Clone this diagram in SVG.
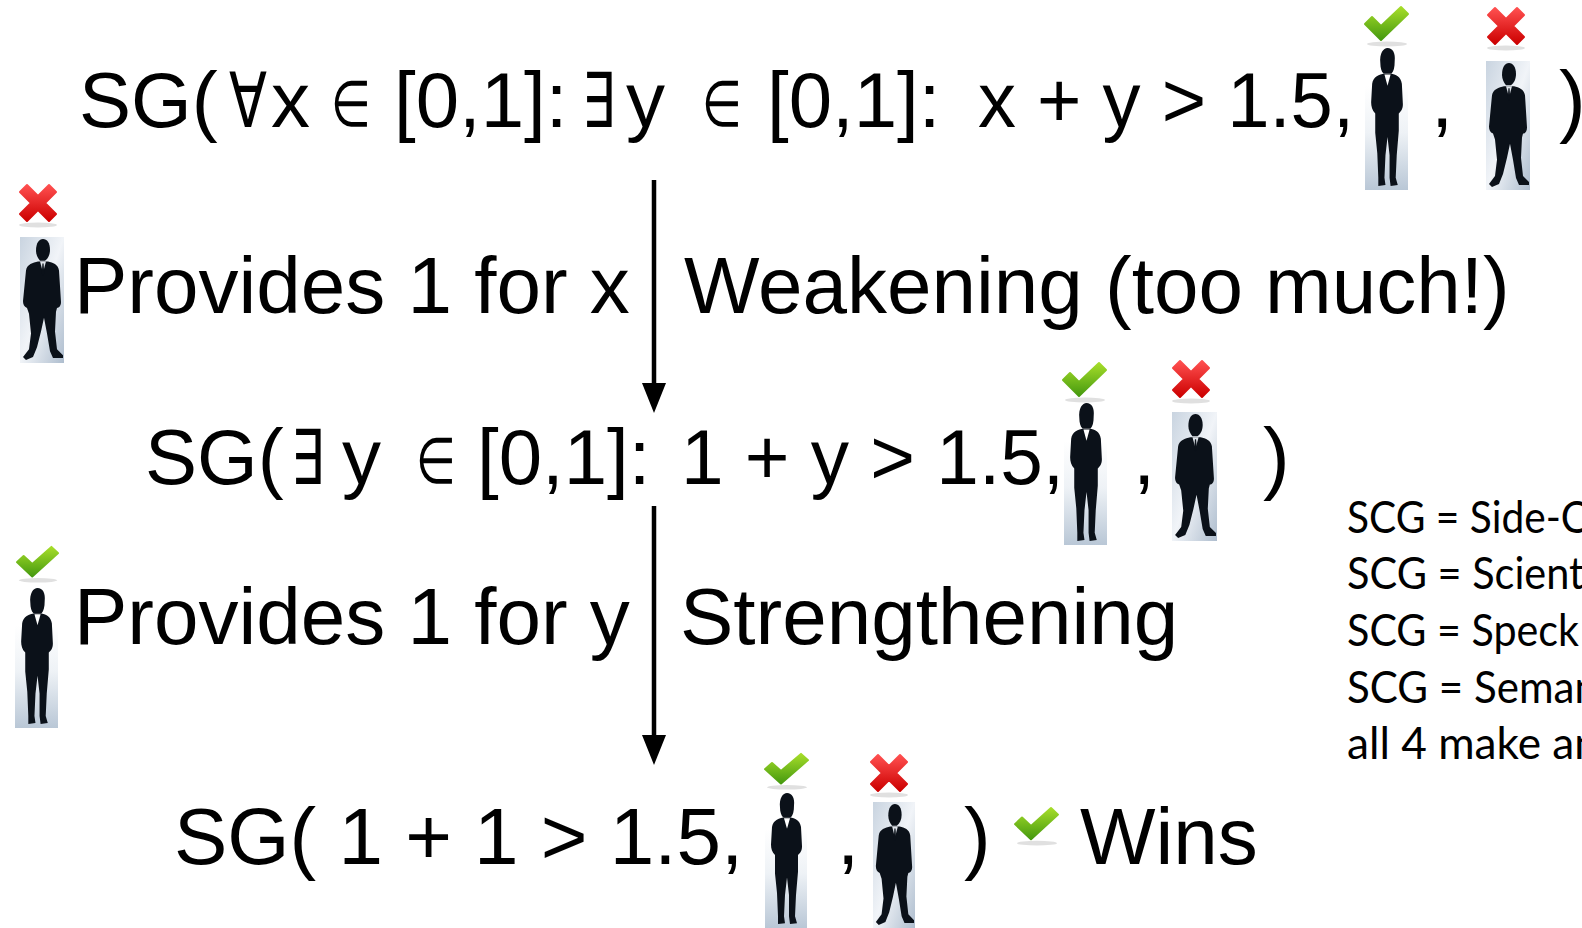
<svg xmlns="http://www.w3.org/2000/svg" xmlns:xlink="http://www.w3.org/1999/xlink" width="1582" height="928" viewBox="0 0 1582 928">
  <style>
    .big { font-family: "Liberation Sans", Arial, sans-serif; font-size: 80px; fill: #000; }
    .eq { font-family: "Liberation Sans", Arial, sans-serif; font-size: 78px; fill: #000; }
    .sym { font-family: "DejaVu Sans", sans-serif; font-size: 76px; fill: #000; }
    .mem { font-family: "DejaVu Sans", sans-serif; font-size: 64px; fill: #000; }
    .note { font-family: Lato, "Open Sans", sans-serif; font-size: 44px; fill: #000; }
    .arrow { stroke: #000; stroke-width: 4.5; fill: none; }
  </style>
  <defs>
    <linearGradient id="wbg" x1="0" y1="0" x2="0" y2="1">
      <stop offset="0" stop-color="#ffffff"/>
      <stop offset="0.45" stop-color="#eef2f6"/>
      <stop offset="1" stop-color="#b9c7d6"/>
    </linearGradient>
    <linearGradient id="mbg" x1="0" y1="0" x2="1" y2="1">
      <stop offset="0" stop-color="#c9d4e0"/>
      <stop offset="0.5" stop-color="#f1f4f8"/>
      <stop offset="1" stop-color="#aebdce"/>
    </linearGradient>
    <linearGradient id="green" x1="0" y1="0" x2="0" y2="1">
      <stop offset="0" stop-color="#a6dd2a"/>
      <stop offset="1" stop-color="#45990f"/>
    </linearGradient>
    <linearGradient id="red" x1="0" y1="0" x2="0" y2="1">
      <stop offset="0" stop-color="#ff5050"/>
      <stop offset="1" stop-color="#cc0000"/>
    </linearGradient>
    <marker id="head" markerUnits="userSpaceOnUse" viewBox="0 0 30 24" markerWidth="30" markerHeight="24" refX="1" refY="12" orient="auto">
      <path d="M0,0 L30,12 L0,24 Z" fill="#000"/>
    </marker>

    <!-- businesswoman silhouette -->
    <symbol id="woman" viewBox="0 0 42 142" preserveAspectRatio="none">
      <rect x="0" y="40" width="42" height="102" fill="url(#wbg)"/>
      <path fill="#0b1119" d="M15,18 C14,8 18,3 22,3 C27,3 30,8 29,16 C29,22 28,26 26,28 L18,28 C16,26 15,22 15,18 Z"/>
      <path fill="#0b1119" d="M7,38 C8,31 14,29 19,28 L25,28 C30,29 35,31 36,38 L37,58 C37,63 35,65 33,67 L33,84 L31,108 L30,130 L32,137 L25,138 L24,130 L24,108 L22,90 L20,108 L19,130 L20,137 L13,138 L13,130 L12,106 L10,86 L10,67 C7,64 6,60 6,56 Z"/>
      <path fill="#ffffff" d="M19,29 L22,40 L25,29 Z"/>
    </symbol>

    <!-- businessman silhouette -->
    <symbol id="man" viewBox="0 0 44 128" preserveAspectRatio="none">
      <rect x="0" y="0" width="44" height="128" fill="url(#mbg)"/>
      <path fill="#0b1119" d="M16,14 C16,6 19,2 23,2 C27,2 30,6 30,13 C30,18 28,22 25,24 L20,24 C18,22 16,18 16,14 Z"/>
      <path fill="#0b1119" d="M6,34 C7,28 13,26 18,25 L28,25 C33,26 38,28 39,34 L41,66 C41,70 39,72 37,72 L36,76 L35,96 L37,114 L43,120 L43,123 L33,123 L30,116 L27,98 L24,82 L21,96 L17,112 L13,122 L6,125 L3,122 L9,114 L11,98 L9,78 L7,72 C4,71 3,68 3,65 Z"/>
      <path fill="#dfe4ea" d="M20,25 L23,36 L26,25 Z"/>
      <path fill="#0b1119" d="M22.4,27 L23.6,27 L24.2,37 L23,39.5 L21.8,37 Z"/>
    </symbol>

    <!-- green tick -->
    <symbol id="tick" viewBox="0 0 48 42" preserveAspectRatio="none">
      <ellipse cx="24" cy="39" rx="20" ry="2.5" fill="#000" opacity="0.12"/>
      <polygon points="2,19 9,12 18,21 38,2 45,9 18,35" fill="url(#green)" stroke="url(#green)" stroke-width="2" stroke-linejoin="round"/>
    </symbol>

    <!-- red cross -->
    <symbol id="cross" viewBox="0 0 46 46" preserveAspectRatio="none">
      <ellipse cx="23" cy="43" rx="19" ry="2.5" fill="#000" opacity="0.12"/>
      <polygon points="5,10 12,3 23,14 34,3 41,10 30,21 41,32 34,39 23,28 12,39 5,32 16,21" fill="url(#red)" stroke="url(#red)" stroke-width="2" stroke-linejoin="round"/>
    </symbol>
  </defs>

  <rect width="1582" height="928" fill="#ffffff"/>

  <g id="connectors">
    <line class="arrow" x1="654" y1="180" x2="654" y2="384" marker-end="url(#head)"/>
    <line class="arrow" x1="654" y1="506" x2="654" y2="736" marker-end="url(#head)"/>
  </g>

  <g id="game-start">
    <text class="eq" x="79" y="127">SG(</text>
    <text class="sym" x="229" y="127" textLength="38" lengthAdjust="spacingAndGlyphs">∀</text>
    <text class="eq" x="271" y="127">x</text>
    <text class="mem" x="331" y="126" textLength="40" lengthAdjust="spacingAndGlyphs">∈</text>
    <text class="eq" x="394" y="127">[0,1]:</text>
    <text class="sym" x="582" y="127" textLength="33" lengthAdjust="spacingAndGlyphs">∃</text>
    <text class="eq" x="626" y="127">y</text>
    <text class="mem" x="702" y="126" textLength="40" lengthAdjust="spacingAndGlyphs">∈</text>
    <text class="eq" x="767" y="127">[0,1]:</text>
    <text class="eq" x="978" y="127" textLength="376" lengthAdjust="spacingAndGlyphs">x + y &gt; 1.5,</text>
    <use xlink:href="#tick" x="1363" y="5" width="48" height="42"/>
    <use xlink:href="#woman" x="1365" y="45" width="43" height="145"/>
    <text class="big" x="1431" y="127">,</text>
    <use xlink:href="#cross" x="1483" y="5" width="46" height="46"/>
    <use xlink:href="#man" x="1486" y="61" width="44" height="129"/>
    <text class="big" x="1559" y="127">)</text>
  </g>

  <g id="move-x">
    <use xlink:href="#cross" x="15" y="182" width="46" height="46"/>
    <use xlink:href="#man" x="20" y="237" width="44" height="126"/>
    <text class="big" x="74" y="313">Provides 1 for x</text>
    <text class="big" x="684" y="313">Weakening (too much!)</text>
  </g>

  <g id="game-middle">
    <text class="eq" x="145" y="484">SG(</text>
    <text class="sym" x="291" y="484" textLength="33" lengthAdjust="spacingAndGlyphs">∃</text>
    <text class="eq" x="342" y="484">y</text>
    <text class="mem" x="416" y="483" textLength="40" lengthAdjust="spacingAndGlyphs">∈</text>
    <text class="eq" x="477" y="484">[0,1]:</text>
    <text class="eq" x="681" y="484" textLength="383" lengthAdjust="spacingAndGlyphs">1 + y &gt; 1.5,</text>
    <use xlink:href="#tick" x="1061" y="361" width="48" height="42"/>
    <use xlink:href="#woman" x="1064" y="400" width="43" height="145"/>
    <text class="big" x="1133" y="484">,</text>
    <use xlink:href="#cross" x="1168" y="358" width="46" height="46"/>
    <use xlink:href="#man" x="1172" y="412" width="45" height="129"/>
    <text class="big" x="1263" y="484">)</text>
  </g>

  <g id="move-y">
    <use xlink:href="#tick" x="15" y="545" width="46" height="38"/>
    <use xlink:href="#woman" x="15" y="585" width="43" height="143"/>
    <text class="big" x="74" y="644">Provides 1 for y</text>
    <text class="big" x="680" y="644">Strengthening</text>
  </g>

  <g id="game-end">
    <text class="big" x="174" y="864">SG( 1 + 1 &gt; 1.5,</text>
    <use xlink:href="#tick" x="763" y="752" width="48" height="38"/>
    <use xlink:href="#woman" x="765" y="790" width="42" height="138"/>
    <text class="big" x="837" y="864">,</text>
    <use xlink:href="#cross" x="866" y="752" width="46" height="46"/>
    <use xlink:href="#man" x="873" y="802" width="42" height="126"/>
    <text class="big" x="964" y="864">)</text>
    <use xlink:href="#tick" x="1013" y="806" width="48" height="40"/>
    <text class="big" x="1080" y="864">Wins</text>
  </g>

  <g id="legend">
    <text class="note" x="1347" y="533" textLength="241" lengthAdjust="spacingAndGlyphs">SCG = Side-C</text>
    <text class="note" x="1347" y="589" textLength="237" lengthAdjust="spacingAndGlyphs">SCG = Scient</text>
    <text class="note" x="1347" y="646" textLength="232" lengthAdjust="spacingAndGlyphs">SCG = Speck</text>
    <text class="note" x="1347" y="703" textLength="251" lengthAdjust="spacingAndGlyphs">SCG = Seman</text>
    <text class="note" x="1347" y="759" textLength="252" lengthAdjust="spacingAndGlyphs">all 4 make an</text>
  </g>
</svg>
